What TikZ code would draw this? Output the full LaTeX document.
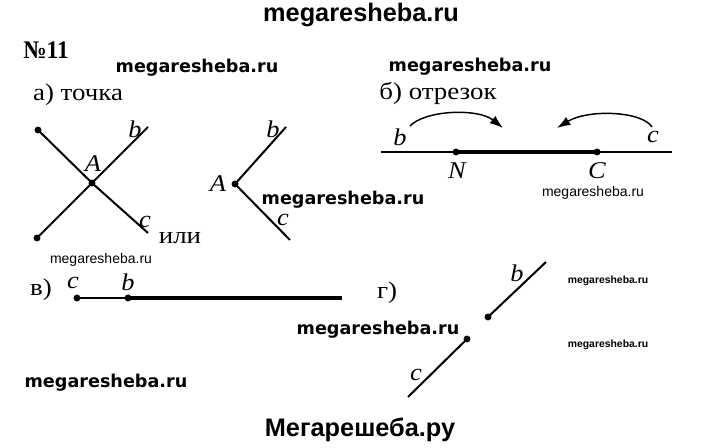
\documentclass[tikz,border=0pt]{standalone}
\usepackage{fontspec}
\setmainfont{Liberation Serif}
\setsansfont{Liberation Sans}
\newfontfamily\wmfont{DejaVu Sans}
\usetikzlibrary{calc}
\usetikzlibrary{arrows.meta}

\begin{document}
\begin{tikzpicture}[x=0.75pt,y=-0.75pt,
  lbl/.style={inner sep=0pt,xscale=1.12,font=\fontsize{18}{20}\selectfont},
  var/.style={inner sep=0pt,xscale=1.1,font=\fontsize{18}{20}\selectfont\itshape},
  wmtop/.style={inner sep=0pt,font=\sffamily\bfseries\fontsize{19}{21}\selectfont},
  wmbig/.style={inner sep=0pt,font=\wmfont\bfseries\fontsize{13.2}{15}\selectfont},
  wmsmall/.style={inner sep=0pt,font=\sffamily\fontsize{10.5}{12}\selectfont},
  wmtiny/.style={inner sep=0pt,font=\sffamily\bfseries\fontsize{7.8}{9}\selectfont},
  ray/.style={line width=1.5pt},
  seg/.style={line width=3.4pt},
  pnt/.style={circle,fill,inner sep=0pt,minimum size=5pt}]
\useasboundingbox (0,0) rectangle (720,448);

% watermarks
\node [wmtop] (wm1) at (361,15) {megaresheba.ru};
\node [wmbig] (wm2) at (197,68) {megaresheba.ru};
\node [wmbig] (wm3) at (470,67) {megaresheba.ru};
\node [wmbig] (wm4) at (343,200) {megaresheba.ru};
\node [wmbig] (wm5) at (378,330) {megaresheba.ru};
\node [wmbig] (wm6) at (106,383) {megaresheba.ru};
\node [wmsmall] (wm7) at (101,260) {megaresheba.ru};
\node [wmsmall] (wm8) at (593,193) {megaresheba.ru};
\node [wmtiny] (wm9) at (608,281) {megaresheba.ru};
\node [wmtiny] (wm10) at (608,345) {megaresheba.ru};
\node [wmtop] (wm11) at (360,430) {Мегарешеба.ру};

\node [lbl, font=\fontsize{19}{21}\selectfont\bfseries, xscale=0.82] (num) at (46,50) {№11};

% a) tochka
\node [lbl] (ta) at (78,95) {а) точка};
\coordinate (P1) at (38,130);
\coordinate (X) at (92,183);
\coordinate (Q1) at (148,233);
\coordinate (P2) at (37,238);
\coordinate (B1) at (148,127);
\draw [ray] (P1)--(X)--(Q1);
\draw [ray] (P2)--(X)--(B1);
\fill (P1) circle (2.6pt) (P2) circle (2.6pt) (X) circle (2.6pt);
\node [var] (b1) at (135,129) {b};
\node [var] (a1) at (93,164) {A};
\node [var] (c1) at (145,222) {c};
\node [lbl] (ili) at (180,238) {или};

\coordinate (A2) at (235,184);
\coordinate (B2) at (286,127);
\coordinate (C2) at (290,240);
\draw [ray] (B2)--(A2)--(C2);
\fill (A2) circle (2.6pt);
\node [var] (b2) at (273,129) {b};
\node [var] (a2) at (218,184) {A};
\node [var] (c2) at (283,220) {c};

% b) otrezok
\node [lbl] (tb) at (438,93) {б) отрезок};
\coordinate (L) at (381,152);
\coordinate (R) at (672,152);
\coordinate (N) at (456,152);
\coordinate (C) at (597,152);
\draw [ray] (L)--(R);
\draw [seg] (N)--(C);
\fill (N) circle (2.6pt) (C) circle (2.6pt);
\node [var] (b3) at (400,137) {b};
\node [var] (c3) at (653,137) {c};
\node [var] (n3) at (457,171) {N};
\node [var] (cc3) at (597,171) {C};
\coordinate (s1) at (410,126);
\coordinate (e1) at (503,128);
\coordinate (s2) at (652,127);
\coordinate (e2) at (557,128);
\draw [line width=1.1pt, -{Latex[length=10pt,width=7pt]}] (s1) .. controls (425,110) and (478,108) .. (e1);
\draw [line width=1.1pt, -{Latex[length=10pt,width=7pt]}] (s2) .. controls (642,111) and (588,109) .. (e2);

% v)
\node [lbl] (tv) at (41,290) {в)};
\coordinate (Cv) at (77,298);
\coordinate (Bv) at (128,298);
\coordinate (Ev) at (342,298);
\draw [ray] (Cv)--(Bv);
\draw [seg] (Bv)--(Ev);
\fill (Cv) circle (2.6pt) (Bv) circle (2.6pt);
\node [var] (c4) at (73,283) {c};
\node [var] (b4) at (128,282) {b};

% g)
\node [lbl] (tg) at (387,293) {г)};
\coordinate (Bg) at (488,317);
\coordinate (Eb) at (546,262);
\coordinate (Cg) at (467,339);
\coordinate (Ec) at (408,397);
\draw [ray] (Bg)--(Eb);
\draw [ray] (Cg)--(Ec);
\fill (Bg) circle (2.6pt) (Cg) circle (2.6pt);
\node [var] (b5) at (517,273) {b};
\node [var] (c5) at (416,375) {c};
\end{tikzpicture}
\end{document}
